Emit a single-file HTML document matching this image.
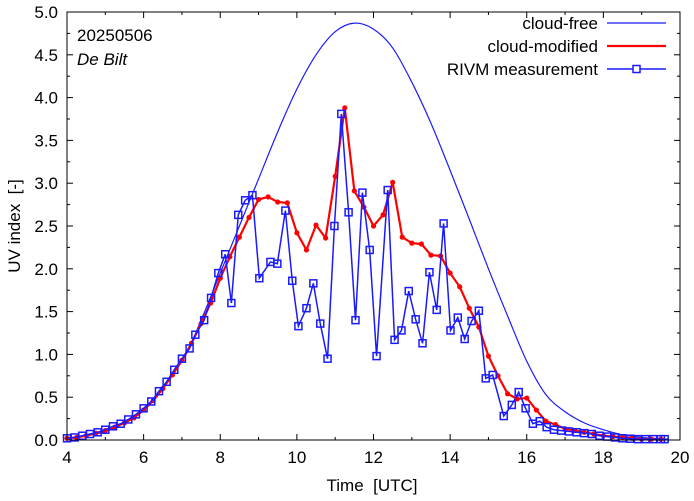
<!DOCTYPE html>
<html><head><meta charset="utf-8"><style>
body{margin:0;background:#fff}
svg{display:block;font-family:"Liberation Sans",sans-serif}
</style></head><body>
<svg id="chart" width="694" height="501" viewBox="0 0 694 501">
<rect x="0" y="0" width="694" height="501" fill="#fff"/>
</svg>
<script>
const clearTimes=[4,5,6,7,7.5,8,8.5,9,9.5,10,10.5,11,11.5,12,12.5,13,13.5,14,14.5,15,15.5,16,16.5,17,17.5,18,18.5,19,19.7];
const clearValues=[0.02,0.1,0.36,0.92,1.4,1.95,2.5,3.05,3.6,4.1,4.5,4.77,4.87,4.8,4.58,4.18,3.7,3.15,2.58,2.0,1.45,0.92,0.53,0.33,0.2,0.12,0.06,0.03,0.01];
const cloudTimes=[4,4.25,4.5,4.75,5,5.25,5.5,5.75,6,6.25,6.5,6.75,7,7.25,7.5,7.75,8,8.25,8.5,8.75,9,9.25,9.5,9.75,10,10.25,10.5,10.75,11,11.25,11.5,11.75,12,12.25,12.5,12.75,13,13.25,13.5,13.75,14,14.25,14.5,14.75,15,15.25,15.5,15.75,16,16.25,16.5,16.75,17,17.25,17.5,17.75,18,18.25,18.5,18.75,19,19.25,19.5];
const cloudValues=[0.02,0.03,0.05,0.08,0.11,0.15,0.2,0.26,0.35,0.46,0.6,0.76,0.93,1.13,1.36,1.6,1.89,2.14,2.37,2.6,2.81,2.84,2.78,2.77,2.42,2.22,2.51,2.36,3.08,3.88,2.91,2.72,2.5,2.63,3.01,2.37,2.3,2.29,2.16,2.15,1.95,1.79,1.54,1.32,0.98,0.75,0.54,0.48,0.49,0.35,0.22,0.18,0.13,0.11,0.09,0.07,0.05,0.04,0.03,0.02,0.01,0.01,0.01];
const measTimes=[4.0,4.2,4.4,4.6,4.8,5.0,5.2,5.4,5.6,5.8,6.0,6.2,6.4,6.6,6.8,7.0,7.2,7.35,7.58,7.76,7.95,8.13,8.29,8.47,8.65,8.84,9.02,9.31,9.49,9.7,9.88,10.04,10.25,10.43,10.61,10.8,10.98,11.16,11.35,11.53,11.71,11.9,12.08,12.37,12.55,12.73,12.92,13.1,13.28,13.46,13.65,13.83,14.01,14.2,14.38,14.56,14.75,14.93,15.11,15.4,15.61,15.79,15.97,16.16,16.34,16.52,16.71,16.9,17.1,17.3,17.5,17.7,17.9,18.1,18.3,18.5,18.7,18.9,19.1,19.3,19.5,19.6];
const measValues=[0.02,0.03,0.05,0.07,0.09,0.12,0.16,0.19,0.24,0.3,0.37,0.45,0.57,0.68,0.82,0.95,1.07,1.23,1.4,1.66,1.95,2.17,1.6,2.63,2.8,2.86,1.89,2.08,2.06,2.68,1.86,1.33,1.54,1.83,1.36,0.95,2.5,3.81,2.66,1.4,2.89,2.22,0.98,2.92,1.17,1.28,1.74,1.41,1.13,1.96,1.52,2.53,1.28,1.43,1.18,1.39,1.51,0.72,0.76,0.28,0.41,0.56,0.37,0.19,0.22,0.15,0.12,0.11,0.1,0.09,0.08,0.07,0.05,0.04,0.03,0.02,0.015,0.01,0.01,0.01,0.01,0.01];
const xTickLabels=[4,6,8,10,12,14,16,18,20];
const yTickLabels=["0.0","0.5","1.0","1.5","2.0","2.5","3.0","3.5","4.0","4.5","5.0"];

const L=67,R=680,T=12,B=440;
const X=t=>L+(t-4)/16*(R-L);
const Y=v=>B-v/5*(B-T);
const NS="http://www.w3.org/2000/svg";
const svg=document.getElementById('chart');
function mk(tag,attrs,parent){const e=document.createElementNS(NS,tag);for(const k in attrs)e.setAttribute(k,attrs[k]);(parent||svg).appendChild(e);return e;}

const axes=mk('g',{});


for(let t=4;t<=20;t++){
  const len=(t%2===0)?6:3;
  mk('line',{x1:X(t),x2:X(t),y1:B,y2:B-len,stroke:'#000','stroke-width':1},axes);
  mk('line',{x1:X(t),x2:X(t),y1:T,y2:T+len,stroke:'#000','stroke-width':1},axes);
}
for(let i=0;i<=20;i++){
  const v=i*0.25,len=(i%2===0)?6:3;
  mk('line',{x1:L,x2:L+len,y1:Y(v),y2:Y(v),stroke:'#000','stroke-width':1},axes);
  mk('line',{x1:R,x2:R-len,y1:Y(v),y2:Y(v),stroke:'#000','stroke-width':1},axes);
}
xTickLabels.forEach(t=>{
  const e=mk('text',{x:X(t),y:B+23,'text-anchor':'middle','font-size':17});
  e.textContent=t;
  
  
});
yTickLabels.forEach(s=>{
  const e=mk('text',{x:L-9,y:Y(parseFloat(s))+6,'text-anchor':'end','font-size':17});
  e.textContent=s;
  
  
});

function smooth(ts,vs){
  const p=ts.map((t,i)=>[X(t),Y(vs[i])]);
  let d='M'+p[0][0]+','+p[0][1];
  for(let i=0;i<p.length-1;i++){
    const p0=p[i-1]||p[i],p1=p[i],p2=p[i+1],p3=p[i+2]||p2;
    const c1=[p1[0]+(p2[0]-p0[0])/6,p1[1]+(p2[1]-p0[1])/6];
    const c2=[p2[0]-(p3[0]-p1[0])/6,p2[1]-(p3[1]-p1[1])/6];
    d+=' C'+c1[0]+','+c1[1]+' '+c2[0]+','+c2[1]+' '+p2[0]+','+p2[1];
  }
  return d;
}
const cf=mk('path',{d:smooth(clearTimes,clearValues),fill:'none',stroke:'#1a1aff','stroke-width':1.2});



const cm=mk('polyline',{points:cloudTimes.map((t,i)=>X(t)+','+Y(cloudValues[i])).join(' '),fill:'none',stroke:'#f00','stroke-width':2.2});


cloudTimes.forEach((t,i)=>{
  const c=mk('circle',{cx:X(t),cy:Y(cloudValues[i]),r:2.6,fill:'#f00'});
  
  
});

const ms=mk('polyline',{points:measTimes.map((t,i)=>X(t)+','+Y(measValues[i])).join(' '),fill:'none',stroke:'#1a1aff','stroke-width':1.5});


measTimes.forEach((t,i)=>{
  const r=mk('rect',{x:X(t)-3.5,y:Y(measValues[i])-3.5,width:7,height:7,fill:'none',stroke:'#1a1aff','stroke-width':1.5});
  
  
});

const frame=mk('rect',{x:L,y:T,width:R-L,height:B-T,fill:'none',stroke:'#000','stroke-width':1});


</script>
<svg style="position:absolute;left:0;top:0" width="694" height="501">
<g font-family="Liberation Sans, sans-serif" font-size="17">
<text x="77" y="41">20250506</text>
<text x="77" y="65" font-style="italic">De Bilt</text>
<text x="372" y="491" text-anchor="middle">Time&#160;&#160;[UTC]</text>
<text transform="translate(20,226) rotate(-90)" text-anchor="middle">UV index&#160;&#160;[-]</text>
<g>
<text x="598" y="29" text-anchor="end">cloud-free</text>
<line x1="607" y1="23" x2="666" y2="23" stroke="#1a1aff" stroke-width="1.2"/>
<text x="598" y="52" text-anchor="end">cloud-modified</text>
<line x1="607" y1="46" x2="666" y2="46" stroke="#f00" stroke-width="2.2"/>
<text x="598" y="75" text-anchor="end">RIVM measurement</text>
<line x1="607" y1="69" x2="666" y2="69" stroke="#1a1aff" stroke-width="1.5"/>
<rect x="633" y="65.5" width="7" height="7" fill="#fff" stroke="#1a1aff" stroke-width="1.5"/>
</g>
</g>
</svg>
</body></html>
